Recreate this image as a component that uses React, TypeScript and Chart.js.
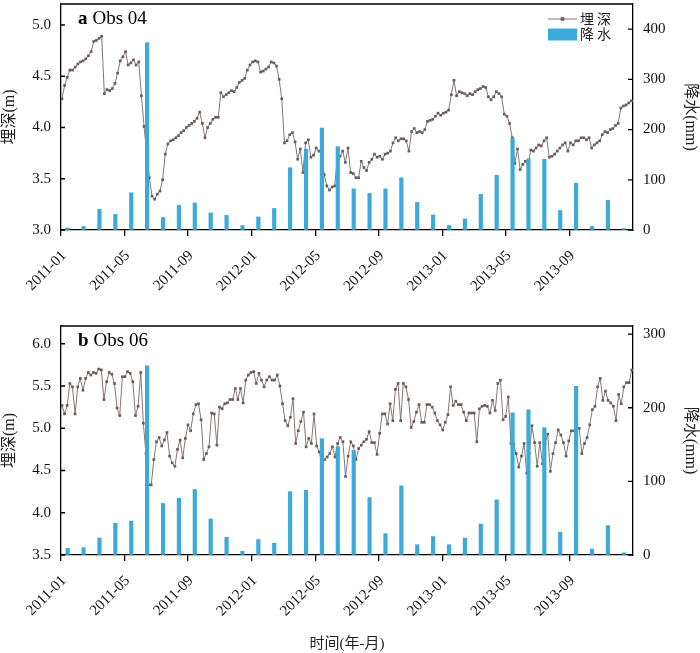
import React, { useEffect, useRef } from 'react';
import { Chart, registerables } from 'chart.js';

Chart.register(...registerables);

const SERIF = "'Liberation Serif', 'Noto Sans CJK SC', serif";
const LINE_COLOR = '#857676';
const MARKER_COLOR = '#6b5b5b';
const BAR_COLOR = '#3ba9da';

// x axis tick labels (every 4 months, starting 2011-01)
const tickLabels = ['2011-01', '2011-05', '2011-09', '2012-01', '2012-05', '2012-09', '2013-01', '2013-05', '2013-09'];

// monthly precipitation (mm), 2011-01 .. 2013-12
const precipObs04 = [4, 7, 41, 31, 74, 373, 25, 49, 54, 34, 29, 9, 26, 43, 124, 161, 203, 166, 82, 73, 82, 104, 55, 30, 9, 22, 71, 109, 182, 142, 141, 39, 93, 7, 59, 3];
const precipObs06 = [9, 10, 23, 43, 46, 257, 70, 77, 89, 49, 24, 5, 21, 16, 86, 88, 158, 147, 142, 78, 29, 94, 14, 25, 14, 23, 42, 75, 193, 197, 173, 31, 229, 8, 40, 3];

// groundwater depth (m), ~5-day readings
const depthObs04 = [
  4.28, 4.41, 4.49, 4.56, 4.56, 4.59,
  4.62, 4.64, 4.65, 4.67, 4.70, 4.74,
  4.84, 4.85, 4.87, 4.89, 4.33, 4.37,
  4.36, 4.38, 4.43, 4.53, 4.65, 4.69,
  4.74, 4.61, 4.63, 4.66, 4.61, 4.64,
  4.31, 4.01, 3.75, 3.51, 3.33, 3.30,
  3.35, 3.38, 3.49, 3.74, 3.84, 3.87,
  3.88, 3.90, 3.92, 3.95, 3.97, 4.00,
  4.02, 4.04, 4.06, 4.09, 4.15, 4.04,
  3.90, 4.00, 4.04, 4.08, 4.10, 4.10,
  4.34, 4.30, 4.32, 4.34, 4.36, 4.35,
  4.39, 4.44, 4.46, 4.48, 4.56, 4.61,
  4.64, 4.65, 4.64, 4.54, 4.55, 4.57,
  4.59, 4.64, 4.63, 4.60, 4.47, 4.28,
  3.85, 3.87, 3.93, 3.95, 3.86, 3.69,
  3.79, 3.56, 3.85, 3.88, 3.71, 3.73,
  3.80, 3.77, 3.74, 3.54, 3.43, 3.39,
  3.42, 3.43, 3.71, 3.72, 3.77, 3.66,
  3.80, 3.56, 3.55, 3.51, 3.51, 3.67,
  3.61, 3.58, 3.66, 3.69, 3.74, 3.71,
  3.72, 3.69, 3.74, 3.75, 3.77, 3.85,
  3.90, 3.87, 3.89, 3.89, 3.87, 3.77,
  3.96, 3.99, 3.95, 3.96, 3.95, 3.98,
  4.06, 4.07, 4.08, 4.11, 4.14, 4.12,
  4.14, 4.15, 4.17, 4.32, 4.46, 4.31,
  4.35, 4.34, 4.33, 4.31, 4.33, 4.32,
  4.35, 4.37, 4.38, 4.40, 4.39, 4.30,
  4.27, 4.30, 4.35, 4.33, 4.30, 4.13,
  4.11, 4.04, 3.90, 3.65, 3.79, 3.59,
  3.64, 3.67, 3.64, 3.78, 3.77, 3.80,
  3.83, 3.82, 3.87, 3.90, 3.71, 3.72,
  3.74, 3.77, 3.80, 3.83, 3.85, 3.77,
  3.85, 3.83, 3.87, 3.87, 3.90, 3.90,
  3.88, 3.90, 3.80, 3.83, 3.85, 3.87,
  3.93, 3.96, 3.95, 3.98, 3.99, 4.02,
  4.04, 4.19, 4.21, 4.22, 4.24, 4.26,
];

const depthObs06 = [
  5.27, 5.17, 5.27, 5.53, 5.49, 5.17, 5.49, 5.59, 5.45, 5.59,
  5.66, 5.63, 5.66, 5.65, 5.70, 5.69, 5.34, 5.55, 5.66, 5.64,
  5.53, 5.24, 5.15, 5.61, 5.61, 5.67, 5.65, 5.55, 5.15, 5.26,
  5.66, 5.06, 4.70, 4.33, 4.33, 4.63, 4.84, 4.89, 4.79, 4.86,
  4.95, 4.67, 4.59, 4.55, 4.75, 4.86, 4.65, 4.88, 5.04, 4.97,
  5.17, 5.28, 5.29, 5.10, 4.63, 4.70, 4.78, 5.18, 5.17, 4.80,
  5.25, 5.23, 5.29, 5.30, 5.34, 5.34, 5.47, 5.34, 5.47, 5.30,
  5.57, 5.63, 5.66, 5.67, 5.53, 5.65, 5.57, 5.49, 5.57, 5.61,
  5.57, 5.57, 5.63, 5.50, 5.29, 5.09, 5.03, 5.13, 5.35, 4.82,
  4.97, 5.08, 5.19, 4.78, 4.88, 4.82, 5.17, 4.79, 4.72, 4.58,
  4.63, 4.66, 4.70, 4.78, 4.66, 4.82, 4.89, 4.84, 4.43, 4.67,
  4.84, 4.79, 4.63, 4.76, 4.80, 4.84, 4.87, 4.96, 4.83, 4.83,
  4.69, 4.94, 5.17, 5.17, 5.05, 5.29, 5.09, 5.46, 5.53, 5.09,
  5.53, 5.49, 5.34, 5.01, 5.08, 5.19, 5.28, 5.07, 5.07, 5.28,
  5.28, 5.25, 5.18, 5.09, 5.04, 4.98, 5.07, 5.16, 5.49, 5.27,
  5.32, 5.28, 5.28, 5.19, 5.09, 5.18, 5.18, 5.18, 4.84, 5.23,
  5.26, 5.27, 5.26, 5.18, 5.33, 5.21, 5.53, 5.57, 5.10, 5.14,
  5.37, 4.82, 4.81, 4.70, 4.54, 4.67, 4.82, 4.47, 4.70, 5.03,
  4.83, 4.55, 4.83, 4.58, 4.82, 4.93, 4.49, 4.70, 4.83, 4.98,
  4.92, 4.83, 4.67, 4.85, 4.97, 4.97, 4.97, 5.00, 4.70, 4.82,
  4.89, 5.04, 5.22, 5.26, 5.49, 5.59, 5.33, 5.44, 5.33, 5.30,
  5.26, 5.09, 5.40, 5.29, 5.49, 5.54, 5.54, 5.69,
];

type Panel = {
  height: number;
  padTop: number;
  xHeight: number;
  depth: number[];
  precip: number[];
  firstX: number;
  lastX: number;
  yMin: number;
  yMax: number;
  y1Max: number;
  tag: string;
  name: string;
  legend: boolean;
  xTitle: boolean;
};

function buildChart(canvas: HTMLCanvasElement, p: Panel) {
  const n = p.depth.length;
  const step = (p.lastX - p.firstX) / (n - 1);
  const lineData = p.depth.map((v, i) => ({ x: p.firstX + i * step, y: v }));
  const barData = p.precip.map((v, i) => ({ x: i + 0.42, y: v }));

  const deco = {
    id: 'deco',
    afterDraw(chart: any) {
      const { ctx, chartArea: a, scales } = chart;
      ctx.save();
      ctx.strokeStyle = '#000';
      ctx.lineWidth = 1.3;
      ctx.beginPath();
      ctx.moveTo(a.left, a.top);
      ctx.lineTo(a.right, a.top);
      scales.y.ticks.forEach((t: any) => {
        const py = scales.y.getPixelForValue(t.value);
        ctx.moveTo(a.left, py);
        ctx.lineTo(a.left + 4, py);
      });
      scales.y1.ticks.forEach((t: any) => {
        const py = scales.y1.getPixelForValue(t.value);
        ctx.moveTo(a.right, py);
        ctx.lineTo(a.right - 5, py);
      });
      ctx.stroke();

      // panel title
      ctx.fillStyle = '#000';
      ctx.textBaseline = 'alphabetic';
      ctx.textAlign = 'left';
      ctx.font = `bold 19px ${SERIF}`;
      const tx = a.left + 17;
      const ty = a.top + 20;
      ctx.fillText(p.tag, tx, ty);
      const w = ctx.measureText(p.tag).width;
      ctx.font = `19px ${SERIF}`;
      ctx.fillText(p.name, tx + w + 5, ty);

      if (p.legend) {
        const lx = a.right - 85;
        const ly = a.top + 15;
        ctx.strokeStyle = LINE_COLOR;
        ctx.lineWidth = 1;
        ctx.beginPath();
        ctx.moveTo(lx, ly);
        ctx.lineTo(lx + 29, ly);
        ctx.stroke();
        ctx.fillStyle = MARKER_COLOR;
        ctx.fillRect(lx + 14.5 - 1.8, ly - 1.8, 3.6, 3.6);
        ctx.fillStyle = BAR_COLOR;
        ctx.fillRect(lx, a.top + 24.5, 29, 12);
        ctx.fillStyle = '#222';
        ctx.font = `14px ${SERIF}`;
        ctx.textBaseline = 'middle';
        const chars1 = ['埋', '深'];
        const chars2 = ['降', '水'];
        chars1.forEach((c, i) => ctx.fillText(c, lx + 32 + i * 17, a.top + 16.5));
        chars2.forEach((c, i) => ctx.fillText(c, lx + 32 + i * 17, a.top + 31));
      }
      ctx.restore();
    },
  };

  const tickFont = { family: SERIF, size: 15 };

  return new Chart(canvas, {
    type: 'line',
    data: {
      datasets: [
        {
          type: 'bar',
          label: '降水',
          data: barData,
          yAxisID: 'y1',
          backgroundColor: BAR_COLOR,
          barThickness: 3.5,
          order: 0,
        } as any,
        {
          type: 'line',
          label: '埋深',
          data: lineData,
          yAxisID: 'y',
          borderColor: LINE_COLOR,
          borderWidth: 1,
          pointStyle: 'rect',
          pointRadius: 1.9,
          pointBackgroundColor: MARKER_COLOR,
          pointBorderWidth: 0,
          tension: 0,
          order: 1,
        },
      ],
    },
    options: {
      animation: false,
      responsive: false,
      maintainAspectRatio: false,
      events: [],
      layout: { padding: { top: p.padTop, left: 0, right: 0, bottom: 0 } },
      plugins: { legend: { display: false }, tooltip: { enabled: false } },
      scales: {
        x: {
          type: 'linear',
          min: 0,
          max: 36,
          offset: false,
          afterBuildTicks: (s: any) => {
            s.ticks = s.ticks.filter((t: any) => t.value <= 32);
          },
          afterFit: (s: any) => {
            s.height = p.xHeight;
            s.paddingLeft = 0;
            s.paddingRight = 0;
          },
          ticks: {
            stepSize: 4,
            autoSkip: false,
            minRotation: 45,
            maxRotation: 45,
            padding: 11,
            labelOffset: 3,
            color: '#111',
            font: tickFont,
            callback: (v: any) => {
              const i = Number(v) / 4;
              return Number.isInteger(i) ? tickLabels[i] ?? '' : '';
            },
          },
          grid: { display: true, offset: false, drawOnChartArea: false, drawTicks: true, tickLength: 6, color: '#000', lineWidth: 1.3 },
          border: { display: true, color: '#000', width: 1.3 },
          title: {
            display: p.xTitle,
            text: '时间(年-月)',
            color: '#222',
            font: { family: SERIF, size: 15 },
            padding: 0,
          },
        },
        y: {
          type: 'linear',
          position: 'left',
          min: p.yMin,
          max: p.yMax,
          afterFit: (s: any) => {
            s.width = 61;
            s.paddingTop = 0;
            s.paddingBottom = 0;
          },
          ticks: {
            stepSize: 0.5,
            includeBounds: false,
            padding: 10,
            color: '#111',
            font: tickFont,
            callback: (v: any) => Number(v).toFixed(1),
          },
          grid: { display: true, drawOnChartArea: false, drawTicks: false },
          border: { display: true, color: '#000', width: 1.3 },
          title: {
            display: true,
            text: '埋深(m)',
            color: '#222',
            font: { family: SERIF, size: 16 },
            padding: 0,
          },
        },
        y1: {
          type: 'linear',
          position: 'right',
          min: 0,
          max: p.y1Max,
          afterFit: (s: any) => {
            s.width = 67;
            s.paddingTop = 0;
            s.paddingBottom = 0;
          },
          ticks: {
            stepSize: 100,
            includeBounds: false,
            padding: 10,
            color: '#111',
            font: tickFont,
            callback: (v: any) => String(v),
          },
          grid: { display: true, drawOnChartArea: false, drawTicks: false },
          border: { display: true, color: '#000', width: 1.3 },
          title: {
            display: true,
            text: '降水(mm)',
            color: '#222',
            font: { family: SERIF, size: 16 },
            padding: 0,
          },
        },
      },
    } as any,
    plugins: [deco],
  });
}

const topPanel: Panel = {
  height: 300,
  padTop: 1,
  xHeight: 70,
  depth: depthObs04,
  precip: precipObs04,
  firstX: 0.06,
  lastX: 35.9,
  yMin: 3.0,
  yMax: 5.205,
  y1Max: 450,
  tag: 'a',
  name: 'Obs 04',
  legend: true,
  xTitle: false,
};

const bottomPanel: Panel = {
  height: 353,
  padTop: 26,
  xHeight: 98,
  depth: depthObs06,
  precip: precipObs06,
  firstX: 0.06,
  lastX: 35.92,
  yMin: 3.5,
  yMax: 6.21,
  y1Max: 311,
  tag: 'b',
  name: 'Obs 06',
  legend: false,
  xTitle: true,
};

function PanelChart({ panel }: { panel: Panel }) {
  const ref = useRef<HTMLCanvasElement | null>(null);
  useEffect(() => {
    if (!ref.current) return;
    const chart = buildChart(ref.current, panel);
    return () => chart.destroy();
  }, [panel]);
  return (
    <canvas
      ref={ref}
      width={700}
      height={panel.height}
      style={{ display: 'block', width: 700, height: panel.height }}
    />
  );
}

export default function App() {
  return (
    <div style={{ position: 'absolute', left: 0, top: 0, width: 700, height: 653, background: '#fff' }}>
      <PanelChart panel={topPanel} />
      <PanelChart panel={bottomPanel} />
    </div>
  );
}
